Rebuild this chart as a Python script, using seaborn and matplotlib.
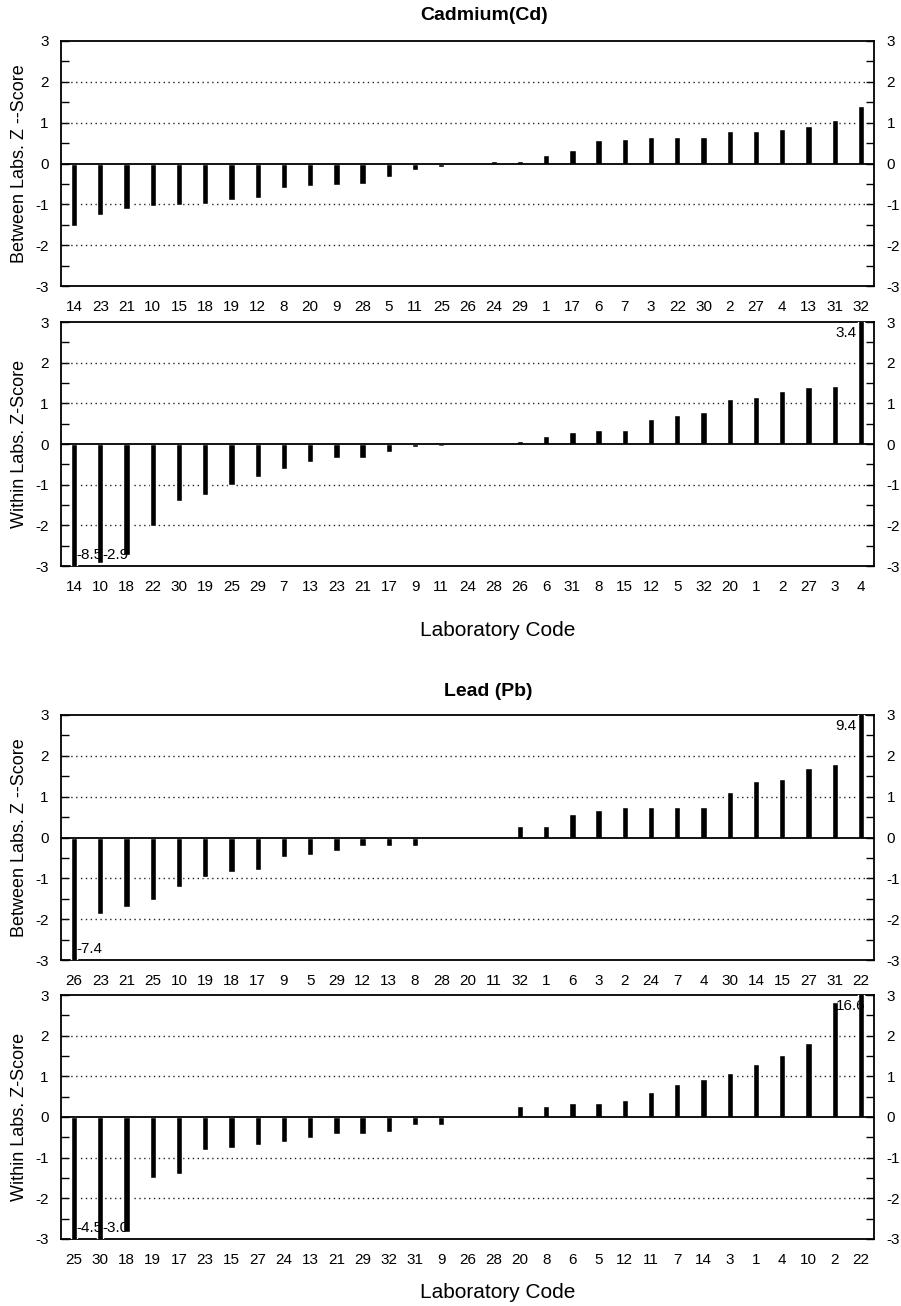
import matplotlib
matplotlib.use("Agg")
import matplotlib.pyplot as plt
from matplotlib.ticker import MultipleLocator
import seaborn as sns
import pandas as pd

# Cadmium, between-lab z-scores (sorted)
cd_between_labs = ["14", "23", "21", "10", "15", "18", "19", "12", "8", "20", "9", "28", "5", "11", "25", "26",
                   "24", "29", "1", "17", "6", "7", "3", "22", "30", "2", "27", "4", "13", "31", "32"]
cd_between_z = [-1.52, -1.27, -1.12, -1.04, -1.02, -0.98, -0.89, -0.84, -0.61, -0.54, -0.53, -0.49, -0.34, -0.15,
                -0.09, -0.01, 0.07, 0.07, 0.20, 0.32, 0.57, 0.60, 0.65, 0.66, 0.66, 0.79, 0.80, 0.84, 0.93, 1.07, 1.40]

# Cadmium, within-lab z-scores
cd_within_labs = ["14", "10", "18", "22", "30", "19", "25", "29", "7", "13", "23", "21", "17", "9", "11", "24",
                  "28", "26", "6", "31", "8", "15", "12", "5", "32", "20", "1", "2", "27", "3", "4"]
cd_within_z = [-8.5, -2.93, -2.72, -2.02, -1.39, -1.26, -1.00, -0.80, -0.61, -0.44, -0.34, -0.34, -0.19, -0.07,
               -0.05, 0.0, 0.02, 0.07, 0.20, 0.30, 0.35, 0.35, 0.61, 0.71, 0.78, 1.11, 1.16, 1.30, 1.39, 1.43, 3.4]

# Lead, between-lab z-scores
pb_between_labs = ["26", "23", "21", "25", "10", "19", "18", "17", "9", "5", "29", "12", "13", "8", "28", "20",
                   "11", "32", "1", "6", "3", "2", "24", "7", "4", "30", "14", "15", "27", "31", "22"]
pb_between_z = [-7.4, -1.87, -1.71, -1.52, -1.20, -0.96, -0.84, -0.80, -0.48, -0.43, -0.34, -0.20, -0.20, -0.20,
                -0.04, 0.0, 0.0, 0.27, 0.27, 0.57, 0.67, 0.74, 0.74, 0.75, 0.75, 1.12, 1.39, 1.43, 1.70, 1.80, 9.4]

# Lead, within-lab z-scores
pb_within_labs = ["25", "30", "18", "19", "17", "23", "15", "27", "24", "13", "21", "29", "32", "31", "9", "26",
                  "28", "20", "8", "6", "5", "12", "11", "7", "14", "3", "1", "4", "10", "2", "22"]
pb_within_z = [-4.5, -3.02, -2.82, -1.50, -1.39, -0.81, -0.76, -0.70, -0.61, -0.51, -0.43, -0.41, -0.36, -0.20,
               -0.19, 0.0, 0.02, 0.26, 0.26, 0.34, 0.34, 0.41, 0.61, 0.80, 0.93, 1.07, 1.30, 1.53, 1.81, 2.84, 16.6]

sns.set_theme(style="white")
plt.rcParams['font.family'] = ['Liberation Sans', 'DejaVu Sans']
plt.rcParams.update({"text.color": "black", "axes.labelcolor": "black",
                     "xtick.color": "black", "ytick.color": "black"})

W, H = 901, 1306
fig = plt.figure(figsize=(W / 100, H / 100), dpi=100)


def add_panel(top, bottom, labs, z, ylabel):
    ax = fig.add_axes([61 / W, 1 - bottom / H, 813 / W, (bottom - top) / H])
    df = pd.DataFrame({"lab": labs, "z": z})
    sns.barplot(data=df, x="lab", y="z", order=labs, color="black", width=0.24,
                saturation=1, ax=ax, zorder=3)
    ax.set_xlim(-0.5, len(labs) - 0.5)
    ax.set_ylim(-3, 3)
    ax.set_xlabel("")
    ax.set_ylabel(ylabel, fontsize=13)
    ax.yaxis.set_label_coords(-0.041, 0.5)
    ax.yaxis.set_minor_locator(MultipleLocator(0.5))
    ax.set_yticks([-3, -2, -1, 0, 1, 2, 3])
    ax.set_yticklabels(["-3", "-2", "-1", "0", "1", "2", "3"])
    ax.tick_params(axis="y", which="both", direction="in", left=True, right=True,
                   labelleft=True, labelright=True, length=6, width=1, color="black",
                   labelsize=11, pad=9)
    ax.tick_params(axis="x", length=0, labelsize=11, pad=10)
    for s in ax.spines.values():
        s.set_color("black")
        s.set_linewidth(1.3)
    for g in [-2, -1, 1, 2]:
        ax.axhline(g, color="#222222", lw=1, ls=(0, (1, 2.5)), zorder=1)
    ax.axhline(0, color="black", lw=1.3, zorder=4)
    # out-of-range values are written next to the clipped bar
    for i, v in enumerate(z):
        if v <= -2.9:
            ax.text(i + 0.08, -2.72, f"{v:.1f}", ha="left", va="center", fontsize=11, zorder=5)
        elif v >= 2.9:
            ax.text(i - 0.97, 2.72, f"{v:.1f}", ha="left", va="center", fontsize=11, zorder=5)
    return ax


add_panel(41, 286, cd_between_labs, cd_between_z, "Between Labs. Z --Score")
add_panel(322, 566, cd_within_labs, cd_within_z, "Within Labs. Z-Score")
add_panel(715, 960, pb_between_labs, pb_between_z, "Between Labs. Z --Score")
add_panel(995, 1239, pb_within_labs, pb_within_z, "Within Labs. Z-Score")

fig.text(484 / W, 1 - 16 / H, "Cadmium(Cd)", ha="center", va="center", fontsize=14, fontweight="bold")
fig.text(498 / W, 1 - 631 / H, "Laboratory Code", ha="center", va="center", fontsize=15)
fig.text(488 / W, 1 - 692 / H, "Lead (Pb)", ha="center", va="center", fontsize=14, fontweight="bold")
fig.text(498 / W, 1 - 1292 / H, "Laboratory Code", ha="center", va="center", fontsize=15)

fig.savefig("out.png", dpi=100, facecolor="white")
